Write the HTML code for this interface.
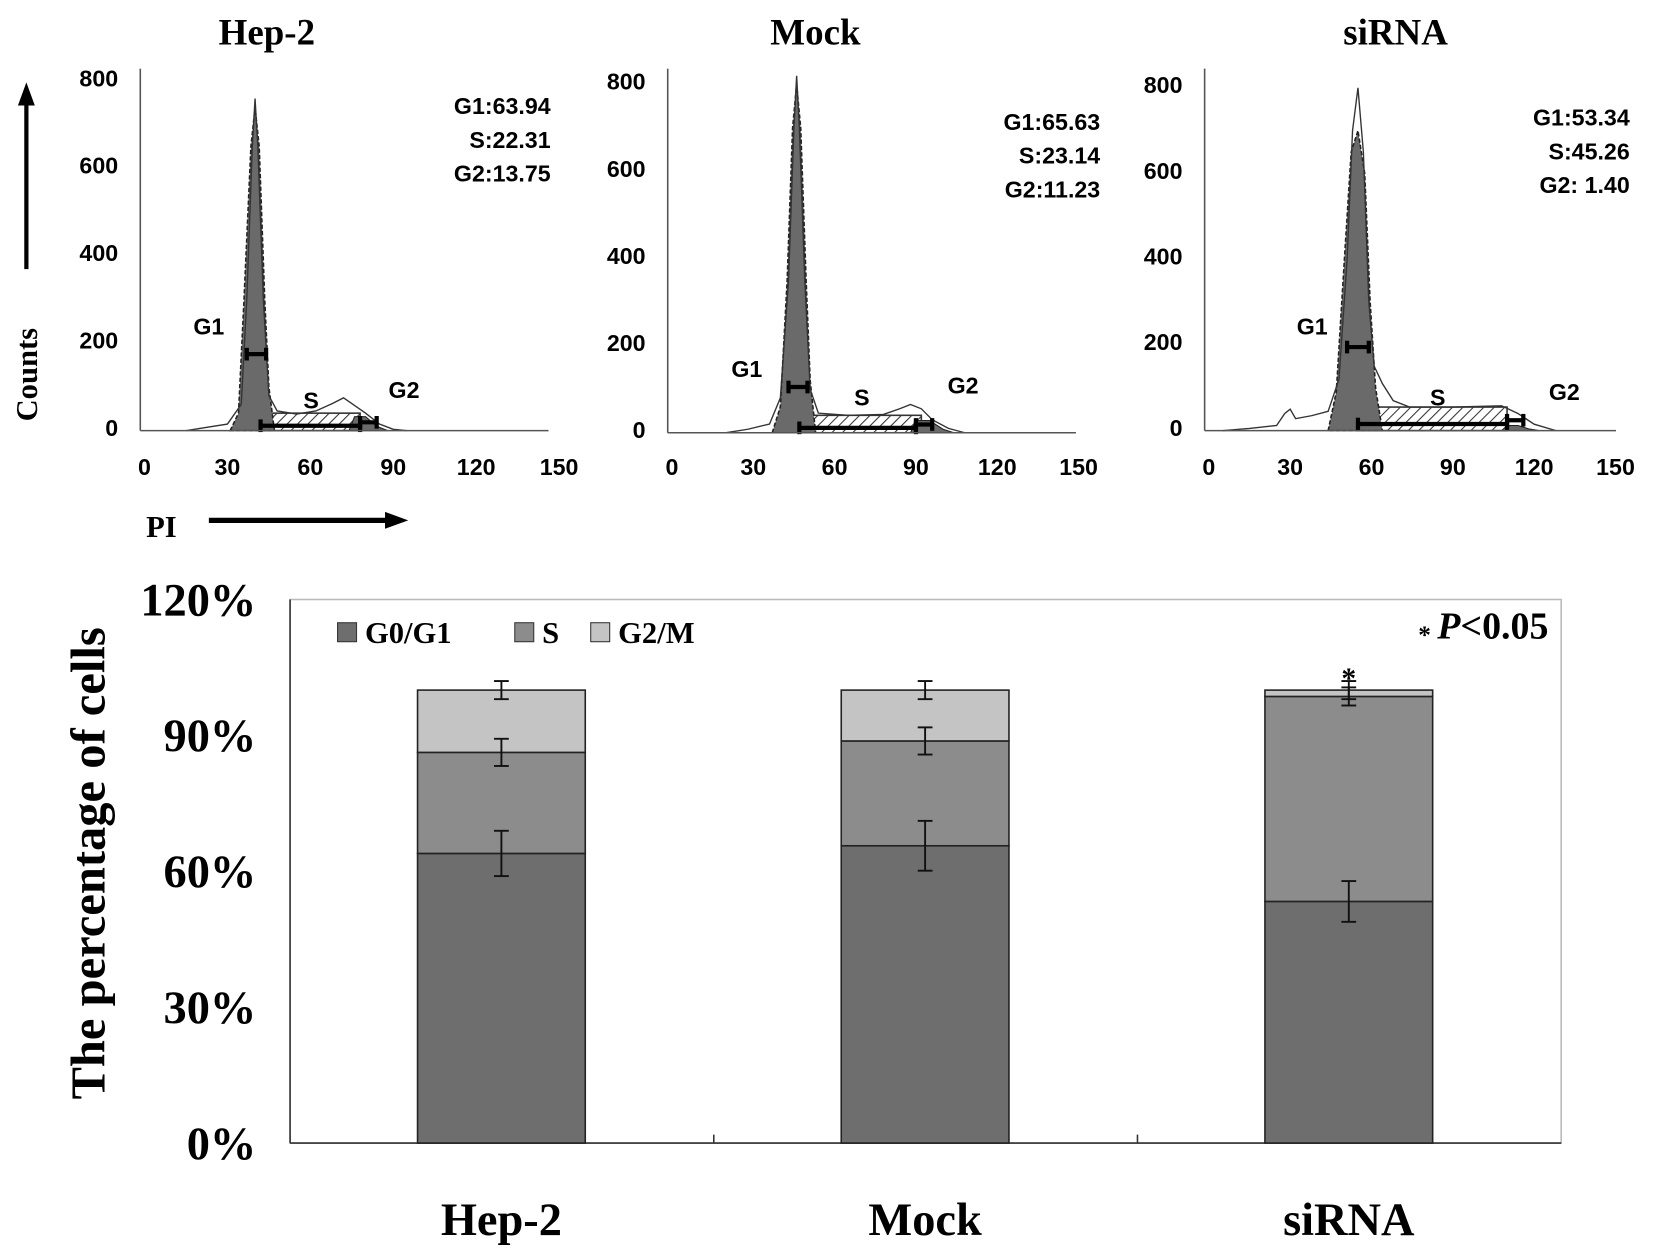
<!DOCTYPE html>
<html><head><meta charset="utf-8"><style>
html,body{margin:0;padding:0;background:#fff}
svg{display:block}
</style></head><body>
<svg id="fig" width="1654" height="1256" viewBox="0 0 1568 1190" preserveAspectRatio="none" xmlns="http://www.w3.org/2000/svg">
<defs>
<pattern id="hatch" patternUnits="userSpaceOnUse" width="7" height="7" patternTransform="rotate(45)">
<rect width="7" height="7" fill="#fff"/><line x1="0" y1="0" x2="0" y2="7" stroke="#333" stroke-width="2"/>
</pattern>
</defs>
<g id="topPanels"></g>
<g id="bottom"></g>
</svg>
<script>
// ---------- histogram data ----------
const panelTitles = ["Hep-2", "Mock", "siRNA"];
const statG1 = ["G1:63.94", "G1:65.63", "G1:53.34"];
const statS = ["S:22.31", "S:23.14", "S:45.26"];
const statG2 = ["G2:13.75", "G2:11.23", "G2:  1.40"];
const xTicks = [0, 30, 60, 90, 120, 150];
const yTicks = [0, 200, 400, 600, 800];
const outline1 = [[15,0],[20,5],[30,15],[35,60],[37,300],[39,650],[40,760],[41,650],[43,300],[45,80],[48,45],[55,38],[62,45],[68,62],[72,75],[75,62],[80,40],[85,15],[90,3],[95,0]];
const outline2 = [[20,0],[28,8],[36,20],[40,80],[43,350],[45,700],[46,820],[47,700],[49,350],[51,100],[54,45],[65,40],[78,42],[84,55],[88,65],[92,55],[96,30],[102,10],[108,0]];
const outline3 = [[5,0],[15,5],[25,12],[28,40],[30,50],[32,28],[38,35],[44,45],[48,120],[51,400],[53,700],[55,800],[57,650],[59,300],[61,150],[64,110],[68,70],[74,55],[90,55],[108,58],[114,40],[120,15],[128,0]];
const g1fill1 = [[31,0],[34,40],[36,300],[38.5,650],[40,740],[41.5,650],[43.5,300],[45,100],[47,0]];
const g1fill2 = [[37,0],[40,60],[42.5,350],[44.5,700],[46,800],[47.5,700],[49.5,350],[51,120],[53,0]];
const g1fill3 = [[44,0],[47,90],[50,400],[52.5,650],[55,700],[57.5,600],[59.5,300],[61.5,100],[64,0]];
const sBand = [[42,78,40],[47,92,40],[55,110,55]];
const g2fill1 = [[74,0],[76,32],[80,32],[84,10],[88,0]];
const g2fill2 = [[88,0],[90,28],[95,28],[100,8],[104,0]];
const g2fill3 = [[108,0],[110,12],[114,12],[118,4],[122,0]];
const g1Marker = [175, 105, 195];
const g1Range = [[37,44],[43,50],[51,59]];
const sRange = [[42,78],[47,90],[55,110]];
const g2Range = [[78,84],[90,96],[110,116]];

const outlines=[outline1,outline2,outline3], g1fills=[g1fill1,g1fill2,g1fill3], g2fills=[g2fill1,g2fill2,g2fill3];
const P=[{x0:137,k:2.62,y0:408,s:0.414,top:65,right:520,tx:253,stX:522,stY:100,g1l:[198,310],g2l:[383,370],sl:[295,380]},
{x0:637,k:2.57,y0:410,s:0.4125,top:65,right:1020,tx:773,stX:1043,stY:115,g1l:[708,350],g2l:[913,366],sl:[817,377]},
{x0:1146,k:2.57,y0:408,s:0.406,top:65,right:1532,tx:1323,stX:1545,stY:111,g1l:[1244,310],g2l:[1483,372],sl:[1363,377]}];
const NS="http://www.w3.org/2000/svg";
function mk(tag,attrs,parent,txt){const e=document.createElementNS(NS,tag);for(const a in attrs)e.setAttribute(a,attrs[a]);if(txt!==undefined)e.textContent=txt;parent.appendChild(e);return e;}
const topG=document.getElementById('topPanels');
P.forEach((p,i)=>{
 const g=mk('g',{},topG);
 
 
 const X=c=>p.x0+c*p.k, Y=v=>p.y0-v*p.s;
 const t=mk('text',{x:p.tx,y:42,'text-anchor':'middle','font-family':'Liberation Serif, serif','font-weight':'bold','font-size':35},g,panelTitles[i]);
 
 
 const pts=a=>a.map(d=>X(d[0])+','+Y(d[1])).join(' ');
 const sb=sBand[i];
 const band=mk('rect',{x:X(sb[0]),y:Y(sb[2]),width:X(sb[1])-X(sb[0]),height:p.y0-Y(sb[2]),fill:'url(#hatch)',stroke:'#333','stroke-width':1.5},g);
 
 
 const f1=mk('polygon',{points:pts(g1fills[i]),fill:'#6a6a6a',stroke:'#222','stroke-width':1.5,'stroke-dasharray':'4,2'},g);
 
 
 const f2=mk('polygon',{points:pts(g2fills[i]),fill:'#6a6a6a',stroke:'#222','stroke-width':1},g);
 
 
 const ol=mk('polyline',{points:pts(outlines[i]),fill:'none',stroke:'#333','stroke-width':1.3},g);
 
 
 const bar=(a,b,yv,nm)=>{const y=Y(yv);const l=mk('g',{},g);
  
  
  mk('line',{x1:X(a),x2:X(b),y1:y,y2:y,stroke:'#000','stroke-width':4},l);
  mk('line',{x1:X(a),x2:X(a),y1:y-6,y2:y+6,stroke:'#000','stroke-width':4},l);
  mk('line',{x1:X(b),x2:X(b),y1:y-6,y2:y+6,stroke:'#000','stroke-width':4},l);};
 bar(g1Range[i][0],g1Range[i][1],g1Marker[i],'g1-marker');
 bar(sRange[i][0],sRange[i][1],sBand[i][2]*0.28,'s-marker');
 bar(g2Range[i][0],g2Range[i][1],sBand[i][2]*0.35+5,'g2-marker');
 mk('line',{x1:p.x0-4,x2:p.x0-4,y1:p.top,y2:p.y0,stroke:'#555','stroke-width':1.5},g);
 mk('line',{x1:p.x0-4,x2:p.right,y1:p.y0,y2:p.y0,stroke:'#555','stroke-width':1.5},g);
 xTicks.forEach(v=>{const e=mk('text',{x:X(v),y:450,'text-anchor':'middle','font-family':'Liberation Sans, sans-serif','font-weight':'bold','font-size':22},g,v);
  
  });
 yTicks.forEach(v=>{const e=mk('text',{x:p.x0-25,y:Y(v)+5,'text-anchor':'end','font-family':'Liberation Sans, sans-serif','font-weight':'bold','font-size':22},g,v);
  
  });
 [statG1[i],statS[i],statG2[i]].forEach((s,j)=>{const e=mk('text',{x:p.stX,y:p.stY+j*32+8,'text-anchor':'end','font-family':'Liberation Sans, sans-serif','font-weight':'bold','font-size':22,'xml:space':'preserve'},g,s);
  
  });
 [['G1',p.g1l],['S',p.sl],['G2',p.g2l]].forEach(d=>{const e=mk('text',{x:d[1][0],y:d[1][1]+7,'text-anchor':'middle','font-family':'Liberation Sans, sans-serif','font-weight':'bold','font-size':22},g,d[0]);
  
  });
});
{const a=mk('g',{},topG);
 
 
 mk('line',{x1:25,x2:25,y1:255,y2:95,stroke:'#000','stroke-width':4},a);
 mk('polygon',{points:'17,100 33,100 25,78',fill:'#000'},a);
 mk('text',{x:0,y:0,transform:'translate(35,355) rotate(-90)','text-anchor':'middle','font-family':'Liberation Serif, serif','font-weight':'bold','font-size':29},a,'Counts');
 mk('text',{x:153,y:509,'text-anchor':'middle','font-family':'Liberation Serif, serif','font-weight':'bold','font-size':29},a,'PI');
 mk('line',{x1:198,x2:368,y1:493,y2:493,stroke:'#000','stroke-width':5},a);
 mk('polygon',{points:'365,485 365,501 387,493',fill:'#000'},a);
}
// ---------- stacked bar data ----------
const categories = ["Hep-2", "Mock", "siRNA"];
const g1Values = [63.94, 65.63, 53.34];
const sValues = [22.31, 23.14, 45.26];
const g2Values = [13.75, 11.23, 1.40];
const g1Err = [5, 5.5, 4.5];
const sErr = [3, 3, 2];
const g2Err = [2, 2, 2];
const pctTicks = [0, 30, 60, 90, 120];
const tickLabels = ["0%", "30%", "60%", "90%", "120%"];
const bt=document.getElementById('bottom');
const L=275,R=1480,T=568,B=1083;
const yS=v=>B-(v/120)*(B-T);
const bandW=(R-L)/categories.length, barW=159;
const xC=i=>L+bandW*(i+0.5)-0.5;
mk('rect',{x:L,y:T,width:R-L,height:B-T,fill:'none',stroke:'#bbb','stroke-width':1.5},bt);
mk('line',{x1:L,x2:R,y1:B,y2:B,stroke:'#333','stroke-width':1.5},bt);
mk('line',{x1:L,x2:L,y1:T,y2:B,stroke:'#333','stroke-width':1.5},bt);
for(let i=1;i<categories.length;i++)mk('line',{x1:L+bandW*i,x2:L+bandW*i,y1:B,y2:B-8,stroke:'#333','stroke-width':1.5},bt);
pctTicks.forEach((v,i)=>{const e=mk('text',{x:243,y:yS(v)+15,'text-anchor':'end','font-family':'Liberation Serif, serif','font-weight':'bold','font-size':44},bt,tickLabels[i]);
 
 });
{const e=mk('text',{x:0,y:0,transform:'translate(99,818) rotate(-90)','text-anchor':'middle','font-family':'Liberation Serif, serif','font-weight':'bold','font-size':46},bt,'The percentage of cells');
 
 }
const cols=['#6e6e6e','#8c8c8c','#c4c4c4'];
const series=[g1Values,sValues,g2Values], errs=[g1Err,sErr,g2Err], snames=['g0g1','s','g2m'];
categories.forEach((c,i)=>{
 let base=0;const x=xC(i)-barW/2;
 series.forEach((sv,k)=>{const v=sv[i];
  const r=mk('rect',{x:x,y:yS(base+v),width:barW,height:yS(base)-yS(base+v),fill:cols[k],stroke:'#222','stroke-width':1.5},bt);
  
  
  base+=v;});
 base=0;
 series.forEach((sv,k)=>{base+=sv[i];const e=errs[k][i];const eg=mk('g',{stroke:'#111','stroke-width':1.8},bt);
  
  
  const xc=xC(i);
  mk('line',{x1:xc,x2:xc,y1:yS(base+e),y2:yS(base-e)},eg);
  mk('line',{x1:xc-7,x2:xc+7,y1:yS(base+e),y2:yS(base+e)},eg);
  mk('line',{x1:xc-7,x2:xc+7,y1:yS(base-e),y2:yS(base-e)},eg);});
 const t=mk('text',{x:xC(i),y:1170,'text-anchor':'middle','font-family':'Liberation Serif, serif','font-weight':'bold','font-size':44},bt,c);
 
 
});
{const e=mk('text',{x:xC(2),y:652,'text-anchor':'middle','font-family':'Liberation Serif, serif','font-weight':'bold','font-size':28},bt,'*');
 
 }
{const e=mk('text',{x:1468,y:605,'text-anchor':'end','font-family':'Liberation Serif, serif','font-weight':'bold','font-size':36},bt);
 
 
 mk('tspan',{'font-size':24,dy:4},e,'* ');mk('tspan',{'font-style':'italic',dy:-4},e,'P');mk('tspan',{},e,'<0.05');}
const legNames=['G0/G1','S','G2/M'], legX=[320,488,560];
legNames.forEach((n,k)=>{const g=mk('g',{},bt);
 
 
 mk('rect',{x:legX[k],y:590,width:18,height:18,fill:cols[k],stroke:'#333','stroke-width':1},g);
 mk('text',{x:legX[k]+26,y:609,'font-family':'Liberation Serif, serif','font-weight':'bold','font-size':29},g,n);});
</script>
</body></html>
